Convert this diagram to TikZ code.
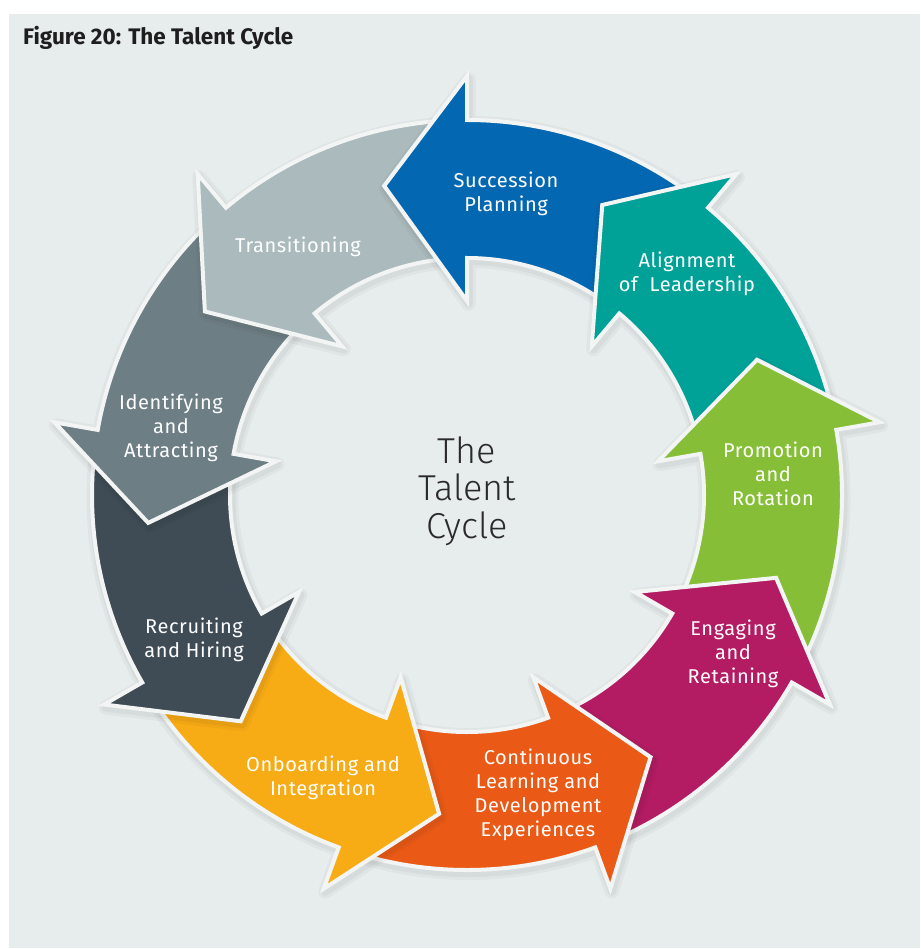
\documentclass[tikz,border=0pt]{standalone}
\usepackage{fontspec}
\setmainfont{Fira Sans}
\newfontfamily\tclabelfont{Fira Sans}[LetterSpace=3]
\newfontfamily\tccenterfont{Fira Sans Light}
\definecolor{tcbg}{HTML}{E7ECEC}
\definecolor{tctitle}{HTML}{1E1E1E}
\definecolor{tcoutl}{HTML}{F3F5F5}
\definecolor{tccentertext}{HTML}{2A2A2A}
\definecolor{tcsucc}{HTML}{0467B1}
\definecolor{tcalign}{HTML}{00A298}
\definecolor{tcpromo}{HTML}{86BF37}
\definecolor{tcengage}{HTML}{B31C63}
\definecolor{tccont}{HTML}{EA5A16}
\definecolor{tconb}{HTML}{F7AB15}
\definecolor{tcrecr}{HTML}{404C55}
\definecolor{tcident}{HTML}{6E7E85}
\definecolor{tctrans}{HTML}{ABBABC}
% arrow outline: #1 options, #2 head base angle
\newcommand\tcshape[2]{%
  \path[#1] ({#2-38}:237) -- ({#2-38}:375)
    arc[start angle={#2-38}, end angle=#2, radius=375]
    -- (#2:419) -- ({#2+15}:320) -- (#2:194) -- (#2:237)
    arc[start angle=#2, end angle={#2-38}, radius=237] -- cycle;}
\newcommand\tcbody[2]{%
  \tcshape{fill=#2, draw=tcoutl, line width=4pt, line join=miter}{#1}}
\newcommand\tcarrow[2]{%
  \begin{scope}[shift={(1.5,-3)}]
    \tcshape{draw=black, draw opacity=0.03, line width=14pt, line join=round}{#1}
    \tcshape{draw=black, draw opacity=0.04, line width=8pt, line join=round}{#1}
  \end{scope}
  \tcbody{#1}{#2}}
\begin{document}
\begin{tikzpicture}[x=1pt,y=1pt,
  lbl/.style={text=white, font=\tclabelfont\fontsize{20}{24}\selectfont, align=center, inner sep=0pt}]
\useasboundingbox (0,0) rectangle (920,-949);
\fill[white] (0,0) rectangle (920,-949);
\fill[tcbg] (9,-14) rectangle (920,-948);
\node[anchor=base west, inner sep=0pt, text=tctitle, font=\bfseries\fontsize{22.5}{26}\selectfont] (title) at (23,-45) {Figure 20: The Talent Cycle};
\begin{scope}[shift={(467,-495)}]
  \tcarrow{330}{tcengage}
  \tcarrow{290}{tccont}
  \tcarrow{250}{tconb}
  \tcarrow{210}{tcrecr}
  \tcarrow{170}{tcident}
  \tcarrow{130}{tctrans}
  \tcarrow{90}{tcsucc}
  \tcarrow{50}{tcalign}
  \tcarrow{10}{tcpromo}
  \begin{scope}
    \clip (0,0) -- (318:600) arc[start angle=318, end angle=356, radius=600] -- cycle;
    \tcbody{330}{tcengage}
  \end{scope}
\end{scope}
\node[lbl] (succ) at (506,-193.5) {Succession\\Planning};
\node[lbl] (align) at (687,-273.5) {Alignment\\of~ Leadership};
\node[lbl] (promo) at (773,-473.5) {Promotion\\and\\Rotation};
\node[lbl] (engage) at (733,-653.5) {Engaging\\and\\Retaining};
\node[lbl] (cont) at (538,-794.5) {Continuous\\Learning and\\Development\\Experiences};
\node[lbl] (onb) at (323,-777.5) {Onboarding and\\Integration};
\node[lbl] (recr) at (194,-639.5) {Recruiting\\and Hiring};
\node[lbl] (ident) at (171,-427.5) {Identifying\\and\\Attracting};
\node[lbl] (trans) at (298,-246.5) {Transitioning};
\node[text=tccentertext, align=center, inner sep=0pt, font=\tccenterfont\fontsize{36}{37.5}\selectfont] (center) at (467,-491) {The\\Talent\\Cycle};
\end{tikzpicture}
\end{document}
